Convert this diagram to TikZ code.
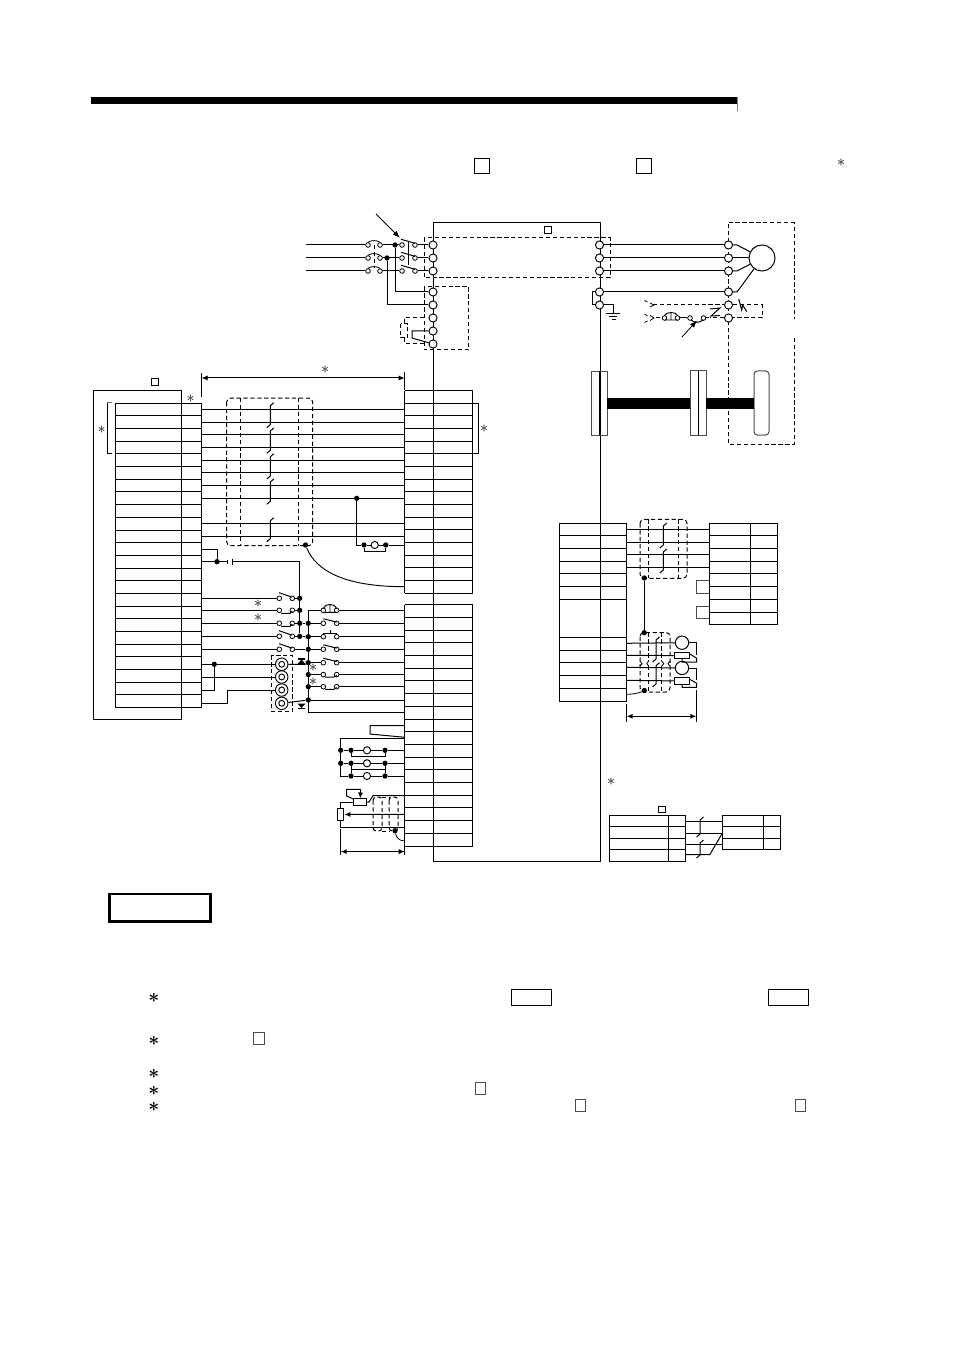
\documentclass[tikz,border=0pt]{standalone}
\usetikzlibrary{arrows.meta}
\tikzset{
  wire/.style={line width=0.75pt,black},
  dsh/.style={line width=0.75pt,dash pattern=on 3.2pt off 2pt},
  term/.style={circle,draw,line width=0.7pt,fill=white,inner sep=0pt,minimum size=6.1pt},
  lampc/.style={circle,draw,line width=0.7pt,fill=white,inner sep=0pt,minimum size=5.4pt},
  cont/.style={circle,draw,line width=0.6pt,fill=white,inner sep=0pt,minimum size=3.5pt},
  jdot/.style={circle,fill=black,inner sep=0pt,minimum size=4pt},
  lamp/.style={circle,draw,line width=0.7pt,fill=white,inner sep=0pt},
  star/.style={inner sep=0pt,font=\large},
  bigstar/.style={inner sep=0pt,font=\Large\boldmath},
  dim/.style={line width=0.75pt,{Latex[length=4.5pt,width=3.8pt]}-{Latex[length=4.5pt,width=3.8pt]}},
  arr/.style={line width=0.6pt,-{Latex[length=5.5pt,width=4pt]}},
  tick/.style={line width=0.75pt},
  gbox/.style={line width=0.75pt,draw=black!70},
}
\newcommand{\brk}[3]{\draw[wire] ({#1+3.5},#2) -- (#1,{#2+3}) -- (#1,{#3-3}) -- ({#1-3.5},#3);}
\begin{document}
\begin{tikzpicture}[x=0.75pt,y=-0.75pt,line join=miter]
\useasboundingbox (0,0) rectangle (954,1351);
\fill[white] (0,0) rectangle (954,1351);
% header
\fill[black] (91,97) rectangle (737,104);
\draw[line width=0.4pt,black!50] (737,97) -- (737,111);
\draw[line width=0.6pt] (474,158.5) rectangle (489,173);
\draw[line width=0.6pt] (636.5,158.5) rectangle (651.5,173);
\node[star] (s0) at (841,163) {$\ast$};
% main box
\draw[wire] (433,223) rectangle (600,861);
\draw[line width=0.6pt] (544,226.7) rectangle (551,233);
\draw[dsh] (424,238) rectangle (610,278);
\draw[dsh] (424,286.5) rectangle (468.5,350);
\draw[dsh] (424,318) -- (404.5,318) -- (404.5,324) (404.5,338) -- (404.5,343.3) -- (424,343.3);
\draw[dsh] (400.5,324) rectangle (407.5,338);
% motor dashed box
\draw[dsh] (728.5,223) -- (794,223) -- (794,319);
\draw[dsh] (794,338) -- (794,444.5) -- (728.5,444.5) -- (728.5,223);
% encoder dashes
\draw[dsh] (653,305) -- (724,305) (733,305) -- (762,305) -- (762,318) -- (733,318) (724,318) -- (710,318);
% terminals
\foreach \i/\y in {1/245,2/258,3/271,4/292,5/305,6/318,7/331,8/344}
  {\node[term] (ML\i) at (433,\y) {};}
\foreach \i/\y in {1/245,2/258,3/271,4/292,5/305}
  {\node[term] (MR\i) at (599.5,\y) {};}
\foreach \i/\y in {1/245,2/258,3/271,4/292,5/305,6/318}
  {\node[term] (MT\i) at (728.5,\y) {};}
% input side
\foreach \i/\y in {1/245,2/258,3/271}{
  \coordinate (in\i) at (306,\y);
  \node[cont] (A\i) at (368,\y) {};
  \node[cont] (B\i) at (380,\y) {};
  \node[cont] (C\i) at (402,\y) {};
  \node[cont] (D\i) at (415,\y) {};
  \draw[wire] (in\i) -- (A\i);
  \draw[wire] (B\i) -- (C\i);
  \draw[wire] (D\i) -- (ML\i);
  \draw[line width=0.6pt] (A\i.north) .. controls (371,{\y-5}) and (377,{\y-5}) .. (B\i.north);
  \draw[wire] (401,{\y-5.7}) -- (415,{\y-1.7});
  \draw[wire] (MR\i) -- (MT\i);
}
\draw[dsh] (374,245) -- (374,268);
\draw[wire] (408.7,241.7) -- (408.7,265);
\node[jdot] (J1) at (395,245) {};
\node[jdot] (J2) at (387,258) {};
\draw[wire] (J1) |- (ML4);
\draw[wire] (J2) |- (ML5);
\draw[wire] (ML7) -- (412,331) -- (412,338) -- (ML8);
\coordinate (a1s) at (376,214);
\coordinate (a1e) at (400,238);
\draw[arr] (a1s) -- (a1e);
% right side: motor
\node[circle,draw,line width=0.75pt,fill=white,inner sep=0pt,minimum size=19.5pt] (Mot) at (762,258) {};
\draw[wire] (MT1) -- (737,245) -- (Mot);
\draw[wire] (MT2) -- (Mot);
\draw[wire] (MT3) -- (737,271) -- (Mot);
\draw[wire] (MR4) -- (MT4);
\draw[wire] (MT4) -- (737,292) -- (Mot);
\draw[wire] (MR4) -- (592,292) -- (592,305) -- (MR5);
\coordinate (G) at (613.7,314);
\draw[wire] (MR5) -| (G);
\draw[wire] (606,314) -- (620,314) (609,317) -- (617,317) (611.5,320) -- (615.5,320);
% encoder/brake
\draw[wire] (710,309) -- (720,308) -- (711,316) -- (720,315.5);
\draw[wire] (738.7,299) -- (741.7,310) -- (742.7,305) -- (746.7,311.7);
\draw[line width=0.6pt] (650,303) -- (654,305) -- (650,307) (650,315.5) -- (654,318) -- (650,320.5)
  (644.5,300.5) -- (647.5,302) (644.5,314) -- (647.5,316) (644.5,322.5) -- (647.5,321);
\draw[dsh] (656,318) -- (663,318);
\node[cont] (BR1) at (664.5,318) {};
\node[cont] (BR2) at (677.5,318) {};
\draw[line width=0.7pt] (664.5,315.5) .. controls (666,311.5) and (676,311.5) .. (677.5,315.5) (665,320) -- (677,320) (671,313) -- (671,320);
\node[cont] (BC1) at (690,318) {};
\node[cont] (BC2) at (703.5,318) {};
\draw[wire] (BR2) -- (BC1);
\draw[wire] (691,320) .. controls (694,323) and (700,323) .. (703,320);
\draw[dsh] (705,318) -- (710,318);
\coordinate (a2s) at (682,337);
\coordinate (a2e) at (697,320.5);
\draw[arr] (a2s) -- (a2e);
% shaft
\draw[gbox,line width=0.7pt] (591.5,371) rectangle (607,435);
\draw[wire] (599.5,371) -- (599.5,435);
\draw[gbox] (690,371) rectangle (706,435);
\draw[wire] (698,371) -- (698,435);
\draw[gbox,rounded corners=2.5pt] (754,371) rectangle (769,435);
\fill[black] (607,398) rectangle (690,409);
\fill[black] (706,398) rectangle (754,409);
% left block
\draw[wire] (93,390) rectangle (181.7,719.5);
\draw[line width=0.6pt] (151,378.3) rectangle (158,385);
\foreach \i in {0,...,24}{\draw[wire] (115,{403.3+\i*12.67}) -- (201.7,{403.3+\i*12.67});}
\draw[wire] (115,403.3) -- (115,707.4);
\draw[wire] (201.7,403.3) -- (201.7,707.4);
\draw[wire] (107,402.7) -- (107,453.3) -- (111.5,453.3);
\draw[line width=0.7pt,black!55] (107,402.7) -- (112,402.7);
\node[star] (s1) at (101.5,430) {$\ast$};
\node[star] (s2) at (190.5,399) {$\ast$};
% dimension top
\coordinate (d1a) at (201.5,378);
\coordinate (d1b) at (404.7,378);
\draw[tick] (201.5,373) -- (201.5,397) (404.7,372) -- (404.7,390);
\draw[dim] (d1a) -- (d1b);
\node[star] (s3) at (325,370) {$\ast$};
% right tables
\foreach \i in {0,...,16}{\draw[wire] (404.7,{390.6+\i*12.67}) -- (472.7,{390.6+\i*12.67});}
\draw[wire] (404.7,390.6) -- (404.7,593.4);
\draw[wire] (472.7,390.6) -- (472.7,593.4);
\foreach \i in {0,...,19}{\draw[wire] (404.7,{604.7+\i*12.7}) -- (472.7,{604.7+\i*12.7});}
\draw[wire] (404.7,604.7) -- (404.7,846);
\draw[wire] (472.7,604.7) -- (472.7,846);
\draw[wire] (472.7,403.3) -- (478,403.3) -- (478,453.5) -- (472.7,453.5);
\node[star] (s4) at (484,429) {$\ast$};
% across wires
\foreach \i in {1,2,3,4,5,6,7,8,10,11}{
  \coordinate (LW\i) at (201.7,{403.3+(\i-0.5)*12.67});
  \coordinate (RW\i) at (404.7,{403.3+(\i-0.5)*12.67});
  \draw[wire] (LW\i) -- (RW\i);
}
% cable shield
\draw[dsh,rounded corners=3pt] (226.7,398) rectangle (312.7,545.7);
\draw[dsh] (240.3,398) -- (240.3,545.7) (298.3,398) -- (298.3,545.7);
\brk{270.3}{402.7}{427.7}
\brk{270.3}{428}{453.3}
\brk{270.3}{453.7}{479}
\brk{270.3}{479}{504.3}
\brk{270.3}{517.7}{541.7}
\node[jdot] (SH1) at (305.5,545) {};
\coordinate (SH1e) at (404.7,586.7);
\draw[line width=0.7pt] (SH1) .. controls (316,571) and (345,586.7) .. (SH1e);
% mid relay
\node[jdot] (P1) at (356.7,498.3) {};
\node[jdot] (P2) at (364,545) {};
\node[lampc] (PL) at (374.7,545) {};
\node[jdot] (P3) at (385.7,545) {};
\coordinate (PE) at (404.7,545);
\draw[wire] (P1) |- (P2) -- (PL) -- (P3) -- (PE);
\draw[wire] (P2) -- (364,551) -- (385.7,551) -- (P3);
% battery
\coordinate (LW12) at (201.7,549);
\coordinate (LW13) at (201.7,561.7);
\node[jdot] (Bj) at (217,561.7) {};
\draw[wire] (LW12) -| (Bj);
\coordinate (Bp1) at (227.3,561.7);
\coordinate (Bp2) at (232,561.7);
\draw[wire] (LW13) -- (Bp1);
\draw[wire] (227.3,559.7) -- (227.3,563.7) (232,558.5) -- (232,565);
% left switches
\foreach \i/\y in {1/598.3,2/610.3,3/623.3,4/636.3,5/649.3}{
  \coordinate (SL\i) at (201.7,\y);
  \node[cont] (SA\i) at (279.3,\y) {};
  \node[cont] (SB\i) at (292.3,\y) {};
  \draw[wire] (SL\i) -- (SA\i);
}
\foreach \i/\y in {1/598.3,2/610.3,3/623.3,4/636.3}{
  \node[jdot] (SD\i) at (299.7,\y) {};
  \draw[wire] (SB\i) -- (SD\i);
}
\foreach \y in {598.3,636.3,649.3}{\draw[wire] (279,{\y-5.6}) -- (292,{\y-1.2});}
\foreach \y in {610.3,623.3}{\draw[wire] (281,{\y+3}) -- (290,{\y+3}) -- (292.3,{\y+0.8});}
\draw[wire] (Bp2) -| (SD4);
\node[star] (s5) at (258,604) {$\ast$};
\node[star] (s6) at (258,618) {$\ast$};
% right switches
\foreach \i/\y in {1/610.3,2/623.3,3/636.7,4/649.3,5/662.7,6/674.6,7/686.7}{
  \coordinate (RT\i) at (404.7,\y);
  \node[cont] (RA\i) at (323.3,\y) {};
  \node[cont] (RB\i) at (336.7,\y) {};
  \draw[wire] (RB\i) -- (RT\i);
}
\foreach \i/\y in {2/623.3,3/636.7,4/649.3,5/662.7,6/674.6,7/686.7}{
  \node[jdot] (RD\i) at (308.3,\y) {};
  \draw[wire] (RD\i) -- (RA\i);
}
\node[jdot] (RD8) at (308.3,700) {};
\coordinate (RT8) at (404.7,700);
\coordinate (RT9) at (404.7,712.3);
\draw[wire] (RD8) -- (RT8);
\draw[wire] (RA1) -- (308.3,610.3) -- (308.3,712.3) -- (RT9);
\draw[wire] (SD3) -- (RD2);
\draw[wire] (SD4) -- (RD3);
\draw[wire] (SB5) -- (RD4);
\foreach \y in {623.3,649.3,662.7}{\draw[wire] (323.3,{\y-4.5}) -- (336.7,{\y-1.2});}
\draw[wire] (330,{636.7-3.3}) -- (330,{636.7-7}) (323.3,{636.7-3.3}) -- (336.7,{636.7-3.3});
\foreach \y in {674.6,686.7}{\draw[wire] (325,{\y+2.6}) -- (334,{\y+2.6}) -- (336.7,{\y+0.8});}
\draw[line width=0.7pt] (323.3,608.5) .. controls (325,603) and (335,603) .. (336.7,608.5) (324.5,612.3) -- (335.5,612.3) (330,604.5) -- (330,612.3);
\node[star] (s7) at (313,667.5) {$\ast$};
\node[star] (s8) at (313,681.5) {$\ast$};
% lamps
\draw[dsh] (271.3,655.3) rectangle (292.7,711.3);
\foreach \i/\y in {1/664.3,2/677,3/690,4/703.3}{
  \node[lamp,minimum size=9.4pt] (LP\i) at (281.7,\y) {};
  \node[lamp,minimum size=4.4pt] (LQ\i) at (281.7,\y) {};
}
\coordinate (LA1) at (201.7,664.3);
\coordinate (LA2) at (201.7,677);
\coordinate (LA3) at (201.7,690);
\coordinate (LA4) at (201.7,703.3);
\draw[wire] (LA1) -- (LP1);
\draw[wire] (LA2) -- (LP2);
\node[jdot] (Ld) at (214.3,664.3) {};
\draw[wire] (LA3) -| (Ld);
\draw[wire] (LA4) -- (227.7,703.3) |- (LP3);
\draw[wire] (LP1) -- (305,664.3) -- (RD5);
\draw[wire] (LP4) -- (RD8);
\fill[black] (297.5,664) -- (305.5,664) -- (301.5,659.5) -- cycle;
\draw[line width=0.8pt] (298,659) -- (305,659);
\fill[black] (297.5,703.5) -- (305.5,703.5) -- (301.5,708) -- cycle;
\draw[line width=0.8pt] (298,708.5) -- (305,708.5);
% lower left of table 2
\coordinate (K1) at (404.7,725.7);
\coordinate (K2) at (404.7,737.3);
\draw[wire] (K1) -- (370,725.7) -- (370,734) -- (K2);
\coordinate (K3) at (404.7,738);
\foreach \i/\y in {1/750.3,2/763.3,3/776}{
  \coordinate (KE\i) at (404.7,\y);
  \node[jdot] (KA\i) at (351,\y) {};
  \node[lampc] (KL\i) at (367,\y) {};
  \node[jdot] (KB\i) at (385,\y) {};
  \draw[wire] (KA\i) -- (KL\i) -- (KB\i) -- (KE\i);
}
\node[jdot] (KC1) at (340.7,750.3) {};
\node[jdot] (KC2) at (340.7,763.3) {};
\draw[wire] (K3) -- (340.7,738) -- (340.7,776) -- (KA3);
\draw[wire] (KC1) -- (KA1);
\draw[wire] (KC2) -- (KA2);
\draw[line width=0.6pt] (KA1) -- (351,756) -- (385,756) -- (KB1);
\draw[line width=0.6pt] (KA2) -- (351,769.3) -- (385,769.3) -- (KB2);
\draw[line width=0.6pt] (KA3) -- (351,769.3) (KB3) -- (385,769.3);
% potentiometers
\node[rectangle,draw,line width=0.7pt,fill=white,minimum width=10pt,minimum height=4.6pt,inner sep=0pt] (PH) at (360,802) {};
\node[rectangle,draw,line width=0.7pt,fill=white,minimum width=4.8pt,minimum height=9pt,inner sep=0pt] (PV) at (340.7,814.5) {};
\coordinate (V1) at (404.7,795.7);
\coordinate (V2) at (404.7,814.3);
\coordinate (V3) at (404.7,827);
\draw[wire] (PH) -- (340.7,802) -- (PV);
\draw[wire] (PH) -- (369,802) -- (373,795.7) -- (V1);
\draw[wire,-{Latex[length=4.5pt,width=3.8pt]}] (V2) -- (PV);
\draw[wire] (PV) |- (V3);
\draw[wire] (353.3,799) -- (346.7,796) -- (346.7,789.3) -- (360.7,789.3);
\draw[wire,-{Latex[length=4.5pt,width=3.8pt]}] (360.7,789.3) -- (PH);
\draw[dsh,rounded corners=2.5pt] (373,797) rectangle (382,831);
\draw[dsh,rounded corners=2.5pt] (389,797) rectangle (398,831);
\draw[dsh] (382,797) -- (389,797) (382,831) -- (389,831);
\node[jdot] (PS) at (395,830.7) {};
\coordinate (PSe) at (404.7,841);
\draw[line width=0.6pt] (PS) .. controls (396,836) and (398,841) .. (PSe);
\coordinate (d2a) at (340.7,851.6);
\coordinate (d2b) at (404.7,851.6);
\draw[tick] (340.7,829) -- (340.7,855) (404.7,846) -- (404.7,855);
\draw[dim] (d2a) -- (d2b);
% encoder table in main box
\draw[wire] (559.3,523.3) rectangle (626.7,701.3);
\foreach \y in {535.3,548.3,561.3,573.3,586.3,599.3,637.3,650.3,662.3,675.3,688.3}{\draw[wire] (559.3,\y) -- (626.7,\y);}
\draw[wire] (709.3,523.3) rectangle (777.3,624.3);
\draw[wire] (750.3,523.3) -- (750.3,624.3);
\foreach \y in {535.3,548.3,561.3,573.3,586.3,599.3,612.3}{\draw[wire] (709.3,\y) -- (777.3,\y);}
\foreach \i/\y in {1/529.3,2/542.3,3/554.3,4/567.3}{
  \coordinate (EA\i) at (626.7,\y);
  \coordinate (EB\i) at (709.3,\y);
  \draw[wire] (EA\i) -- (EB\i);
}
\draw[gbox] (709.3,580.7) -- (696,580.7) -- (696,593) -- (709.3,593);
\draw[gbox] (709.3,606) -- (696,606) -- (696,618.3) -- (709.3,618.3);
\draw[dsh,rounded corners=3pt] (640,519.3) rectangle (687,578.3);
\draw[dsh] (648.7,519.3) -- (648.7,578.3) (678.3,519.3) -- (678.3,578.3);
\brk{663.3}{523}{548}
\brk{663.3}{549}{573}
\node[jdot] (E1) at (644.3,578) {};
\node[jdot] (E2) at (644.3,632.7) {};
\draw[wire] (E1) -- (E2);
% lower shield
\draw[dsh,rounded corners=3pt] (640,632.5) rectangle (670,692);
\draw[dsh] (648.7,632.5) -- (648.7,661) (648.7,666) -- (648.7,692);
\draw[dsh] (661.7,632.5) -- (661.7,661) (661.7,666) -- (661.7,692);
\draw[line width=0.6pt] (640,661) -- (642,663.7) -- (640,666) (648.7,661) -- (646.7,663.7) -- (648.7,666) (661.7,661) -- (663.7,663.7) -- (661.7,666) (670,661) -- (668,663.7) -- (670,666);
\brk{656}{637}{662}
\brk{656}{662.7}{687}
\foreach \i/\y in {1/643.3,2/655.3,3/667.3,4/680.3}{
  \coordinate (FA\i) at (626.7,\y);
}
\node[circle,draw,line width=0.75pt,fill=white,inner sep=0pt,minimum size=10pt] (FM1) at (682,642.7) {};
\node[circle,draw,line width=0.75pt,fill=white,inner sep=0pt,minimum size=10pt] (FM2) at (682,668) {};
\node[rectangle,draw,line width=0.7pt,fill=white,minimum width=11.7pt,minimum height=5pt,inner sep=0pt] (FR1) at (682,655.6) {};
\node[rectangle,draw,line width=0.7pt,fill=white,minimum width=11.7pt,minimum height=5pt,inner sep=0pt] (FR2) at (682,681) {};
\draw[wire] (FA1) -- (FM1);
\draw[wire] (FA2) -- (FR1);
\draw[wire] (FA3) -- (FM2);
\draw[wire] (FA4) -- (FR2);
\draw[wire] (FM1) -- (696.7,642.7) -- (696.7,655);
\draw[wire] (690,654) -- (696.7,658.3) -- (696.7,662) -- (682,662) -- (682,659);
\draw[wire] (FM2) -- (696.7,668) -- (696.7,680);
\draw[wire] (690,679.5) -- (696.7,683.3) -- (696.7,687.3) -- (682,687.3) -- (682,684.5);
\node[jdot] (E3) at (644.3,690.5) {};
\coordinate (F5) at (626.7,694.3);
\draw[line width=0.6pt] (F5) .. controls (633,694.3) and (639,693) .. (E3);
\coordinate (d3a) at (626.7,716.3);
\coordinate (d3b) at (696.3,716.3);
\draw[tick] (626.7,704) -- (626.7,722) (696.3,690) -- (696.3,722);
\draw[dim] (d3a) -- (d3b);
% lower right table
\node[star] (s9) at (611,782) {$\ast$};
\draw[line width=0.6pt] (658.7,806) rectangle (665.3,812.3);
\draw[wire] (609,815.3) rectangle (685.7,861.3);
\draw[wire] (668.3,815.3) -- (668.3,861.3);
\foreach \y in {826.3,838.3,849.3}{\draw[wire] (609,\y) -- (685.7,\y);}
\draw[wire] (722.3,815.3) rectangle (780.7,849.3);
\draw[wire] (763.3,815.3) -- (763.3,849.3);
\foreach \y in {826.3,838.3}{\draw[wire] (722.3,\y) -- (780.7,\y);}
\foreach \i/\y in {1/821.7,2/833.3,3/844}{
  \coordinate (HA\i) at (685.7,\y);
  \coordinate (HB\i) at (722.3,\y);
  \draw[wire] (HA\i) -- (HB\i);
}
\coordinate (HA4) at (685.7,854.7);
\coordinate (HB4) at (722.3,833.3);
\draw[wire] (HA4) -- (709.7,854.7) -- (HB4);
\brk{700}{817}{837}
\brk{700}{840}{858}
% note area
\node[rectangle,draw,line width=2pt,minimum width=75.7pt,minimum height=20.5pt,inner sep=0pt] (note) at (159.8,907.7) {};
\draw[line width=0.75pt] (511,989.5) rectangle (551.5,1005.5);
\draw[line width=0.75pt] (768,989.5) rectangle (808,1005.5);
\draw[line width=0.5pt,black!70] (253,1032.5) rectangle (264.5,1044);
\draw[line width=0.5pt,black!70] (475,1082.5) rectangle (485.5,1094);
\draw[line width=0.5pt,black!70] (575,1099.5) rectangle (585.5,1111);
\draw[line width=0.5pt,black!70] (795,1099.5) rectangle (805.5,1111);
\node[bigstar] (n1) at (154,998) {$\ast$};
\node[bigstar] (n2) at (154,1041) {$\ast$};
\node[bigstar] (n3) at (154,1074) {$\ast$};
\node[bigstar] (n4) at (154,1090.5) {$\ast$};
\node[bigstar] (n5) at (154,1107) {$\ast$};
\end{tikzpicture}
\end{document}
